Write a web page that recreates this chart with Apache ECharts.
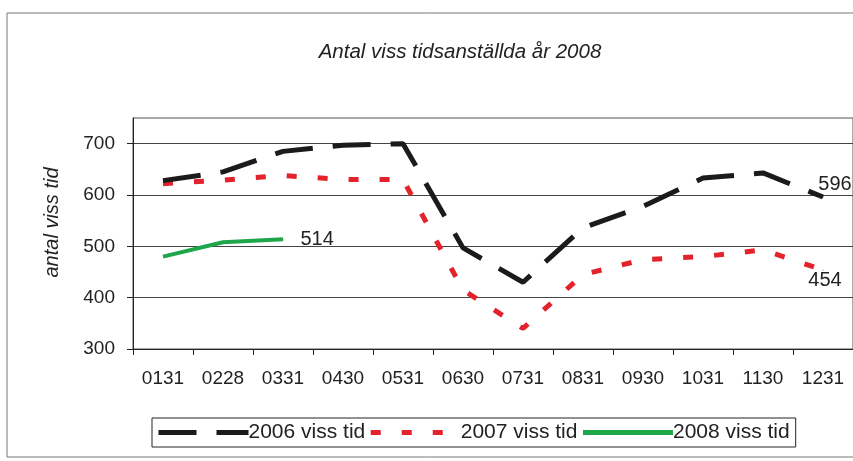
<!DOCTYPE html>
<html>
<head>
<meta charset="utf-8">
<script src="https://cdn.jsdelivr.net/npm/echarts@6/dist/echarts.min.js"></script>
<style>
  html, body { margin: 0; padding: 0; background: #fff; }
  #chart { width: 853px; height: 461px; }
</style>
</head>
<body>
<div id="chart"></div>
<script>
// månader (slutdatum)
const months = ["0131", "0228", "0331", "0430", "0531", "0630", "0731", "0831", "0930", "1031", "1130", "1231"];
const seriesNames = ["2006 viss tid", "2007 viss tid", "2008 viss tid"];

const values2006 = [628, 645, 685, 697, 700, 497, 430, 536, 578, 633, 643, 596];
const values2007 = [622, 629, 638, 630, 630, 415, 340, 445, 474, 480, 493, 454];
const values2008 = [480, 508, 514, null, null, null, null, null, null, null, null, null];

const yTicks = [300, 400, 500, 600, 700];

const FONT = "'Liberation Sans', Arial, sans-serif";

// etikett på sista punkten (osynlig symbol bär etiketten)
const withEndLabel = (arr, pos, offset) => {
  let last = -1;
  arr.forEach((v, i) => { if (v !== null) last = i; });
  return arr.map((v, i) => i === last
    ? {
        value: v,
        symbol: "circle",
        symbolSize: 1,
        label: { show: true, position: pos, offset: offset, formatter: "{c}", color: "#222", fontSize: 20, fontFamily: FONT },
      }
    : v);
};

const chart = echarts.init(document.getElementById("chart"));

const option = {
  backgroundColor: "#fff",
  animation: false,
  title: {
    text: "Antal viss tidsanställda år 2008",
    left: 455,
    textAlign: "center",
    top: 37,
    textStyle: { fontSize: 20.5, fontStyle: "italic", fontWeight: "normal", color: "#222", fontFamily: FONT },
  },
  graphic: [
    {
      type: "rect",
      shape: { x: 7, y: 13, width: 860, height: 444 },
      style: { fill: "none", stroke: "#777", lineWidth: 1 },
      silent: true,
      z: -1,
    },
  ],
  legend: {
    left: 152,
    top: 418,
    padding: [4, 6, 4, 4],
    borderColor: "#222",
    borderWidth: 1,
    itemWidth: 90,
    itemHeight: 12,
    itemGap: 3,
    itemStyle: { opacity: 0 },
    lineStyle: { width: 5 },
    textStyle: { fontSize: 21, color: "#222", fontFamily: FONT, padding: [0, 0, 0, -5] },
    data: seriesNames,
  },
  grid: { left: 133, top: 118, right: -3, bottom: 112, show: true, borderColor: "#555", borderWidth: 1 },
  xAxis: {
    type: "category",
    data: months,
    boundaryGap: true,
    axisLine: { lineStyle: { color: "#222", width: 1 } },
    axisTick: { show: true, interval: 0, length: 6, lineStyle: { color: "#222" } },
    axisLabel: { interval: 0, margin: 20, fontSize: 19, color: "#222", fontFamily: FONT },
  },
  yAxis: {
    type: "value",
    min: 300,
    max: 750,
    interval: 100,
    name: "antal viss tid",
    nameLocation: "middle",
    nameGap: 71,
    nameRotate: 90,
    nameTextStyle: { fontSize: 20, fontStyle: "italic", color: "#222", fontFamily: FONT, padding: [0, 0, 0, 22] },
    axisLine: { show: true, lineStyle: { color: "#222", width: 1 } },
    axisTick: { show: true, length: 6, customValues: yTicks, lineStyle: { color: "#222" } },
    axisLabel: { margin: 18, fontSize: 19, color: "#222", fontFamily: FONT, customValues: yTicks },
    splitLine: { show: true, lineStyle: { color: "#444", width: 1 } },
  },
  series: [
    {
      name: seriesNames[0],
      type: "line",
      data: withEndLabel(values2006, "top", [12, 3]),
      symbol: "none",
      color: "#1b1b1b",
      lineStyle: { color: "#1b1b1b", width: 5, type: [38, 20] },
      z: 3,
    },
    {
      name: seriesNames[1],
      type: "line",
      data: withEndLabel(values2007, "bottom", [2, -5]),
      symbol: "none",
      color: "#e3222b",
      lineStyle: { color: "#e3222b", width: 5, type: [10, 21] },
      z: 2,
    },
    {
      name: seriesNames[2],
      type: "line",
      data: withEndLabel(values2008, "right", [12, 0]),
      symbol: "none",
      connectNulls: false,
      color: "#1ea64a",
      lineStyle: { color: "#1ea64a", width: 4 },
      z: 4,
    },
  ],
};

chart.setOption(option);
</script>
</body>
</html>
